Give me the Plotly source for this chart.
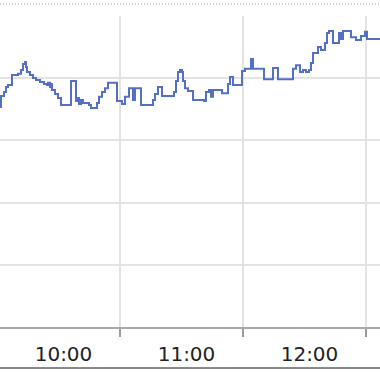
import pandas as pd
import plotly.graph_objects as go

# minutes after 10:00 and values (step series)
minutes = [0.49, 1.95, 3.41, 4.39, 5.37, 7.32, 10.24, 11.71, 12.68, 13.66, 14.15, 14.63,
           16.10, 17.56, 19.02, 20.98, 22.93, 24.39, 24.88, 25.85, 26.34, 26.83, 28.29,
           29.76, 31.22, 36.10, 38.54, 39.51, 40.00, 40.98, 41.95, 44.88, 45.85, 48.78,
           49.76, 51.22, 52.68, 54.15, 58.54, 60.98, 62.44, 64.39, 66.34, 67.32, 70.24,
           76.10, 77.07, 78.54, 80.49, 86.34, 87.32, 88.29, 89.27, 90.24, 90.73, 91.71,
           93.17, 95.61, 100.98, 101.95, 103.41, 104.39, 105.37, 109.76, 112.68, 113.66,
           115.12, 119.51, 120.98, 123.90, 124.88, 130.24, 134.63, 137.07, 144.39, 145.85,
           147.80, 149.27, 150.73, 152.20, 153.17, 154.15, 156.59, 158.05, 160.00, 160.98,
           161.95, 163.90, 166.83, 167.80, 168.78, 172.68, 175.12, 177.56, 179.51, 180.49,
           188.29]
values = [70.7, 74.3, 75.6, 77.2, 77.8, 81.0, 81.4, 82.6, 84.6, 85.2, 83.6, 82.0,
          81.0, 80.1, 79.4, 78.8, 78.1, 77.8, 78.5, 77.2, 78.1, 76.2, 74.9,
          73.6, 71.4, 79.1, 72.7, 73.6, 71.7, 73.0, 72.0, 71.4, 70.4, 72.0,
          74.0, 75.6, 76.8, 78.5, 72.7, 71.7, 74.0, 76.8, 73.0, 76.8, 71.4,
          73.0, 74.9, 77.2, 74.3, 75.6, 79.1, 82.0, 82.6, 82.0, 79.1, 76.8,
          75.9, 73.0, 72.7, 75.6, 76.2, 74.0, 76.2, 75.2, 78.1, 80.4,
          77.8, 82.3, 83.0, 86.2, 83.0, 79.7, 83.3, 79.7, 83.0, 84.2,
          82.0, 82.6, 82.0, 82.6, 84.9, 88.1, 90.0, 89.1, 91.3, 94.5,
          95.2, 91.3, 94.5, 92.6, 95.2, 93.2, 92.3, 93.6, 94.9, 92.6,
          92.6]

base = pd.Timestamp("2024-01-01 10:00:00")
times = base + pd.to_timedelta(minutes, unit="m")
x_range = ["2024-01-01 10:01:28", "2024-01-01 13:06:50"]
y_range = [0, 100]

fig = go.Figure()
fig.add_trace(go.Scatter(x=times, y=values, mode="lines",
                         line=dict(color="#5470c6", width=2, shape="hv"),
                         hoverinfo="skip"))

fig.update_layout(
    template="none",
    width=380, height=372,
    margin=dict(l=0, r=0, t=16, b=45),
    paper_bgcolor="white", plot_bgcolor="white",
    showlegend=False,
    xaxis=dict(type="date", range=x_range, dtick=3600000, tickformat="%H:00",
               ticklabelmode="period", ticklabelshift=5,
               ticks="outside", ticklen=8, tickwidth=1.5,
               tickcolor="#9a9a9a", showgrid=True, gridcolor="#e3e3e3", gridwidth=1.5,
               showline=True, linecolor="#a8a8a8", linewidth=1.5, zeroline=False,
               automargin=False,
               tickfont=dict(family="DejaVu Sans", size=20, color="#222222")),
    yaxis=dict(range=y_range, dtick=20, showticklabels=False, showgrid=True,
               gridcolor="#e3e3e3", gridwidth=1.5, zeroline=False, showline=False,
               automargin=False, ticks=""),
    shapes=[
        dict(type="line", xref="paper", yref="paper", x0=0, x1=1,
             y0=(327 - 4) / 311, y1=(327 - 4) / 311,
             line=dict(color="#c0c0c0", width=1.5, dash="1px,2px")),
        dict(type="line", xref="paper", yref="paper", x0=0, x1=1,
             y0=(327 - 368) / 311, y1=(327 - 368) / 311,
             line=dict(color="#8a8a8a", width=2)),
    ],
)

fig.write_html("out.html")
